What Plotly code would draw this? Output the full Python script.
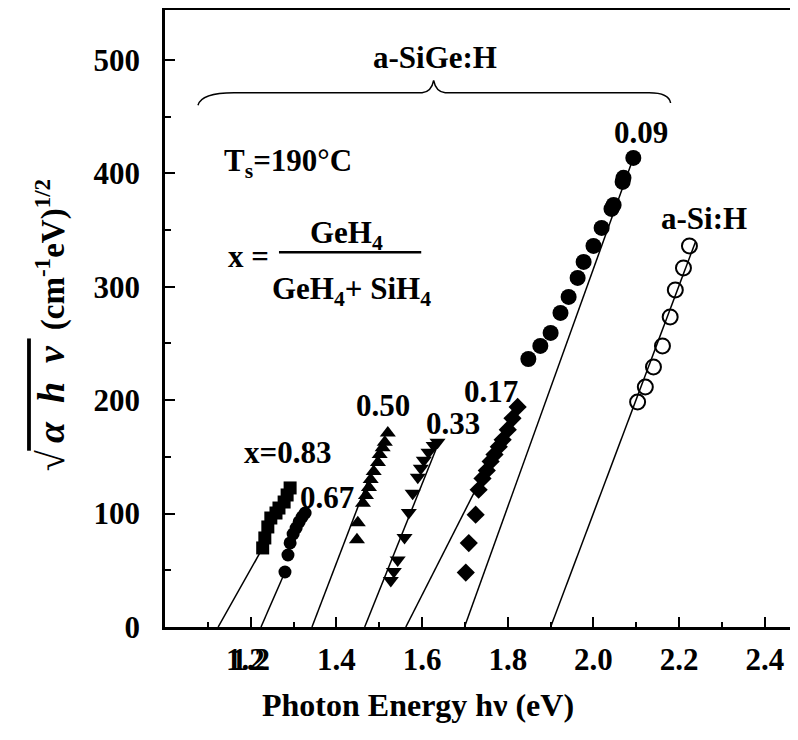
import plotly.graph_objects as go

# ---- data (photon energy eV, sqrt(alpha h nu)) ----
x_083 = [1.228, 1.233, 1.240, 1.247, 1.259, 1.266, 1.278, 1.285, 1.292]
y_083 = [69.7, 78.5, 88.2, 96.1, 100.5, 104.9, 110.2, 116.4, 122.6]

x_067 = [1.280, 1.287, 1.292, 1.299, 1.306, 1.313, 1.320, 1.327]
y_067 = [48.5, 63.5, 74.1, 82.0, 87.3, 92.6, 97.0, 100.5]

x_050 = [1.448, 1.450, 1.462, 1.469, 1.476, 1.480, 1.487, 1.497, 1.501, 1.508, 1.513, 1.520]
y_050 = [77, 92, 109, 116, 123, 130, 137, 145, 152, 158, 163, 171]

x_033 = [1.527, 1.534, 1.543, 1.559, 1.569, 1.578, 1.590, 1.597, 1.604, 1.615, 1.627, 1.636]
y_033 = [41, 49, 59, 79, 101, 118, 132, 140, 147, 154, 160, 163]

x_017 = [1.702, 1.709, 1.725, 1.732, 1.741, 1.751, 1.760, 1.769, 1.779, 1.788, 1.800, 1.811, 1.823]
y_017 = [48, 74, 99, 121, 131, 138, 146, 152, 159, 165, 174, 184, 194]

x_009 = [1.848, 1.876, 1.900, 1.923, 1.942, 1.963, 1.977, 2.000, 2.019, 2.042, 2.047, 2.068, 2.070, 2.093]
y_009 = [236.3, 247.8, 259.3, 276.9, 291.0, 307.8, 321.9, 336.0, 351.9, 368.6, 372.1, 392.4, 396.0, 413.6]

x_si = [2.103, 2.121, 2.140, 2.161, 2.179, 2.191, 2.210, 2.224]
y_si = [198.4, 211.6, 229.3, 247.8, 273.4, 297.2, 316.6, 336.0]

# Tauc fit lines: optical gap (x-intercept) and upper end point
fit_eg = [1.124, 1.224, 1.343, 1.466, 1.562, 1.699, 1.900]
fit_x_end = [1.228, 1.280, 1.500, 1.636, 1.823, 2.093, 2.238]
fit_y_end = [69.7, 48.5, 155, 160, 194, 413.6, 339.5]

x_ticks = [1.2, 1.4, 1.6, 1.8, 2.0, 2.2, 2.4]
x_tick_text = ["1.2", "1.4", "1.6", "1.8", "2.0", "2.2", "2.4"]
x_minor = [1.1, 1.3, 1.5, 1.7, 1.9, 2.1, 2.3]
y_ticks = [0, 100, 200, 300, 400, 500]
y_minor = [50, 150, 250, 350, 450]

FONT = "Liberation Serif, Times New Roman, serif"
FS = 31

fig = go.Figure()

for x0, x1, y1 in zip(fit_eg, fit_x_end, fit_y_end):
    fig.add_trace(go.Scatter(x=[x0, x1], y=[0, y1], mode="lines",
                             line=dict(color="black", width=1.5),
                             showlegend=False, hoverinfo="skip"))

series = [
    (x_083, y_083, "square", 13),
    (x_067, y_067, "circle", 13),
    (x_050, y_050, "triangle-up", 14),
    (x_033, y_033, "triangle-down", 14),
    (x_017, y_017, "diamond", 14),
    (x_009, y_009, "circle", 16),
    (x_si, y_si, "circle-open", 15),
]
for xs, ys, sym, sz in series:
    fig.add_trace(go.Scatter(
        x=xs, y=ys, mode="markers", showlegend=False,
        marker=dict(symbol=sym, size=sz, color="black",
                    line=dict(color="black", width=2 if sym == "circle-open" else 0))))

axis_common = dict(showgrid=False, zeroline=False, showline=True, linecolor="black",
                   linewidth=2.5, ticks="inside", tickcolor="black", tickwidth=2,
                   ticklen=10, automargin=False,
                   tickfont=dict(family=FONT, size=FS, color="black", weight="bold"))

fig.update_xaxes(range=[1.0, 2.496], tickmode="array", tickvals=x_ticks, ticktext=x_tick_text,
                 mirror=True, ticklabelstandoff=3,
                 minor=dict(tickmode="array", tickvals=x_minor, ticks="inside", ticklen=5,
                            tickwidth=2, tickcolor="black"),
                 **axis_common)
fig.update_yaxes(range=[0, 544], tickmode="array", tickvals=y_ticks,
                 ticklabelstandoff=16,
                 minor=dict(tickmode="array", tickvals=y_minor, ticks="inside", ticklen=6,
                            tickwidth=2, tickcolor="black"),
                 **axis_common)

def ann(text, x, y, size=FS, xref="x", yref="y", **kw):
    fig.add_annotation(text=text, x=x, y=y, xref=xref, yref=yref, showarrow=False,
                       xanchor="center", yanchor="middle",
                       font=dict(family=FONT, size=size, color="black", weight="bold"), **kw)

# series labels
ann("x=0.83", 1.287, 154)
ann("0.67", 1.378, 114)
ann("0.50", 1.509, 195)
ann("0.33", 1.672, 179)
ann("0.17", 1.761, 208)
ann("0.09", 2.111, 436)
ann("a-Si:H", 2.258, 360)
ann("a-SiGe:H", 1.630, 502)
ann("1.2", 1.2, -0.052, yref="paper", xshift=-5)

# composition definition
ann("T<sub>s</sub>=190°C", 1.287, 409)
ann("x =", 1.194, 327)
ann("GeH<sub>4</sub>", 1.423, 346)
ann("GeH<sub>4</sub>+ SiH<sub>4</sub>", 1.436, 296)
fig.add_shape(type="line", x0=1.266, x1=1.598, y0=330.5, y1=330.5,
              line=dict(color="black", width=2.5), xref="x", yref="y")

# curly brace over the a-SiGe:H series
fig.add_shape(type="path", xref="x", yref="y",
              path="M 1.077,460 Q 1.085,471 1.161,471 L 1.600,471 Q 1.622,472 1.627,482 "
                   "Q 1.632,472 1.654,471 L 2.130,471 Q 2.176,471 2.180,462",
              line=dict(color="black", width=1.5))

# axis titles
ann("Photon Energy hν (eV)", 0.395, -0.126, size=32, xref="paper", yref="paper")
ann("<span style='font-size:38px'><i>√<span style='text-decoration:overline'>\u2009α\u2002h\u2002ν\u2009</span></i></span>"
    "<span style='font-size:33px'> (cm<sup>-1</sup>eV)<sup>1/2</sup></span>",
    -0.178, 0.49, size=33, xref="paper", yref="paper", textangle=-90)

fig.update_layout(width=798, height=740, margin=dict(l=157, r=0, t=2, b=121),
                  plot_bgcolor="white", paper_bgcolor="white",
                  font=dict(family=FONT, size=FS, color="black", weight="bold"))

fig.write_html("out.html")
